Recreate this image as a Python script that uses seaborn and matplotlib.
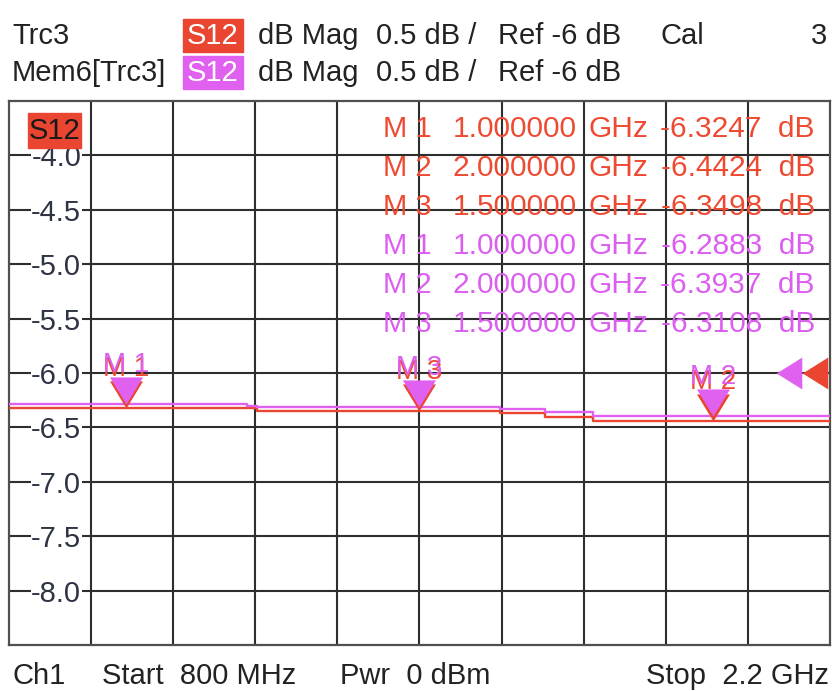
import numpy as np
import pandas as pd
import seaborn as sns
import matplotlib.pyplot as plt
from matplotlib.path import Path

f_start, f_stop = 0.8, 2.2          # GHz
ref_level, db_per_div = -6.0, 0.5   # dB

# escalones de las trazas (GHz, dB)
step_freq = [0.80, 1.206, 1.223, 1.637, 1.714, 1.796, 2.20]
trc3_db = [-6.325, -6.325, -6.350, -6.370, -6.400, -6.442, -6.448]
mem6_db = [-6.288, -6.300, -6.311, -6.332, -6.356, -6.394, -6.398]

marker_names = ['M 1', 'M 2', 'M 3']
marker_freq = [1.0, 2.0, 1.5]
trc3_marker_db = [-6.3247, -6.4424, -6.3498]
mem6_marker_db = [-6.2883, -6.3937, -6.3108]

ytick_vals = [-4.0, -4.5, -5.0, -5.5, -6.0, -6.5, -7.0, -7.5, -8.0]

RED = '#EA4530'
MAG = '#E060F0'
RED_TXT = '#EE4A32'
MAG_TXT = '#DC5EF0'
GRID = '#2E2E2E'

sns.set_style('white')
plt.rcParams['font.family'] = ['Liberation Sans', 'DejaVu Sans']

W, H = 832, 691
fig = plt.figure(figsize=(W / 100, H / 100), dpi=100)


def fx(x):
    return x / W


def fy(y):
    return 1 - y / H


ax = fig.add_axes([fx(9), fy(645), (830 - 9) / W, (645 - 101) / H])

df = pd.DataFrame({
    'freq': step_freq * 2,
    'db': trc3_db + mem6_db,
    'trace': ['Trc3'] * len(step_freq) + ['Mem6'] * len(step_freq),
})
sns.lineplot(data=df[df.trace == 'Trc3'], x='freq', y='db', color=RED, lw=1.7,
             drawstyle='steps-post', estimator=None, sort=True, ax=ax, zorder=3)
sns.lineplot(data=df[df.trace == 'Mem6'], x='freq', y='db', color=MAG, lw=1.7,
             drawstyle='steps-post', estimator=None, sort=True, ax=ax, zorder=4)

# --- ejes y rejilla ---
ax.set_xlim(f_start, f_stop)
ax.set_ylim(ref_level - 5 * db_per_div, ref_level + 5 * db_per_div)
ax.set_xticks(np.linspace(f_start, f_stop, 11)[1:-1])
ax.set_xticklabels([])
ax.set_yticks(ytick_vals)
ax.set_yticklabels([f'{v:.1f}' for v in ytick_vals])
ax.set_xlabel('')
ax.set_ylabel('')
ax.grid(True, color=GRID, lw=1.5)
ax.set_axisbelow(True)
ax.tick_params(axis='x', length=0)
ax.tick_params(axis='y', direction='in', length=8, width=1.5, color=GRID,
               pad=-52, labelsize=21, labelcolor='#2F3445')
for lab in ax.get_yticklabels():
    lab.set_bbox(dict(facecolor='white', edgecolor='none', pad=0.5))
for sp in ax.spines.values():
    sp.set_color('#505050')
    sp.set_linewidth(1.6)

# --- marcadores (triangulo con vertice en la traza) ---
tri = Path([(0, 0), (-0.61, 1), (0.61, 1), (0, 0)])
for vals, col, tcol, z in [(trc3_marker_db, RED, RED_TXT, 5), (mem6_marker_db, MAG, MAG_TXT, 6)]:
    ax.plot(marker_freq, vals, ls='none', marker=tri, ms=39, color=col,
            mec='none', zorder=z)
    for name, fr, v in zip(marker_names, marker_freq, vals):
        ax.annotate(name, (fr, v), xytext=(0, 23), textcoords='offset points',
                    ha='center', va='baseline', fontsize=20, color=tcol, zorder=z)

# flechas del nivel de referencia
arrow = Path([(-0.8, 0), (0.8, 1), (0.8, -1), (-0.8, 0)])
ax.plot([f_stop - 0.070], [ref_level], marker=arrow, ms=23, color=MAG, mec='none', zorder=6)
ax.plot([f_stop - 0.026], [ref_level], marker=arrow, ms=23, color=RED, mec='none', zorder=6)

# etiqueta S12 dentro del grafico
fig.patches.append(plt.Rectangle((fx(28), fy(148)), (81 - 28) / W, (148 - 113) / H,
                                 transform=fig.transFigure, color=RED, zorder=10))
fig.text(fx(54.5), fy(131), 'S12', ha='center', va='center', fontsize=21,
         color='#1A1A1A', zorder=11)

# --- tabla de marcadores ---
rows = [(n, fr, v, RED_TXT) for n, fr, v in zip(marker_names, marker_freq, trc3_marker_db)]
rows += [(n, fr, v, MAG_TXT) for n, fr, v in zip(marker_names, marker_freq, mem6_marker_db)]
for i, (n, fr, v, col) in enumerate(rows):
    y = 129 + i * 39
    fig.text(fx(383), fy(y), n, ha='left', va='center', fontsize=21, color=col)
    fig.text(fx(453), fy(y), f'{fr:.6f}', ha='left', va='center', fontsize=21.5, color=col)
    fig.text(fx(589), fy(y), 'GHz', ha='left', va='center', fontsize=21.5, color=col)
    fig.text(fx(815), fy(y), f'{v:.4f}  dB', ha='right', va='center', fontsize=21.5, color=col)

# --- cabecera ---
hdr = dict(va='center', fontsize=21, color='#222222')
for y, name, col in [(36, 'Trc3', RED), (73, 'Mem6[Trc3]', MAG)]:
    fig.text(fx(12), fy(y), name, ha='left', **hdr)
    fig.patches.append(plt.Rectangle((fx(183), fy(y + 16)), 60 / W, 33 / H,
                                     transform=fig.transFigure, color=col, zorder=1))
    fig.text(fx(213), fy(y), 'S12', ha='center', va='center', fontsize=21,
             color='white', zorder=2)
    fig.text(fx(258), fy(y), 'dB Mag', ha='left', **hdr)
    fig.text(fx(376), fy(y), '0.5 dB /', ha='left', **hdr)
    fig.text(fx(498), fy(y), 'Ref -6 dB', ha='left', **hdr)
fig.text(fx(660), fy(36), 'Cal', ha='left', **hdr)
fig.text(fx(827), fy(36), '3', ha='right', **hdr)

# --- pie ---
fig.text(fx(12), fy(676), 'Ch1', ha='left', **hdr)
fig.text(fx(102), fy(676), 'Start  800 MHz', ha='left', **hdr)
fig.text(fx(340), fy(676), 'Pwr  0 dBm', ha='left', **hdr)
fig.text(fx(829), fy(676), 'Stop  2.2 GHz', ha='right', **hdr)

fig.savefig('out.png', dpi=100)
